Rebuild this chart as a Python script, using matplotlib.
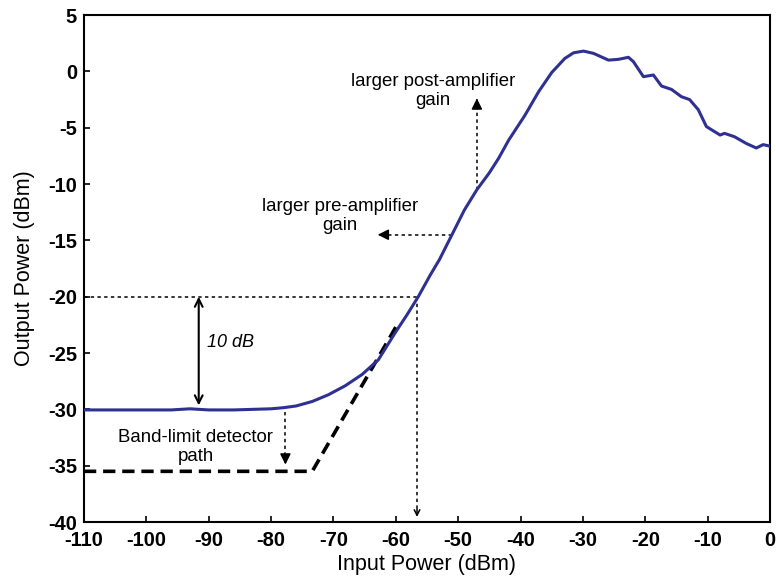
import matplotlib
matplotlib.use("Agg")
import matplotlib.pyplot as plt

# ---- data ----
input_power = [-110, -105, -100, -96, -93, -90, -86, -83, -80, -78, -76, -73.4, -70.8,
               -68.1, -65.4, -62.8, -60.1, -58.2, -56.4, -54.5, -53, -51, -49, -47, -45,
               -43.5, -41.9, -39.3, -37.1, -35.0, -32.9, -31.5, -29.9, -28.3, -25.9, -24.3,
               -22.7, -21.9, -20.3, -18.7, -17.4, -15.8, -14.2, -12.9, -11.5, -10.2, -8.0,
               -7.3, -5.7, -3.8, -2.2, -1.1, -0.3, 0]
output_power = [-30.05, -30.05, -30.05, -30.05, -29.95, -30.05, -30.05, -30.0, -29.95, -29.85,
                -29.7, -29.3, -28.7, -27.9, -26.9, -25.6, -23.2, -21.6, -20.0, -18.1, -16.7,
                -14.5, -12.3, -10.5, -9.0, -7.7, -6.1, -3.9, -1.8, -0.1, 1.15, 1.65, 1.8, 1.6,
                1.0, 1.07, 1.25, 0.86, -0.47, -0.32, -1.3, -1.6, -2.25, -2.5, -3.4, -4.9,
                -5.65, -5.5, -5.8, -6.4, -6.8, -6.5, -6.6, -6.65]
bandlimit_x = [-110, -73.4, -60.0]
bandlimit_y = [-35.5, -35.5, -22.7]
x_ticks = list(range(-110, 1, 10))
y_ticks = list(range(-40, 6, 5))

ref_x = -56.6     # input power at -20 dBm output
ref_y = -20
floor_y = -30

plt.rcParams['font.family'] = ['Liberation Sans', 'DejaVu Sans']
plt.rcParams['axes.unicode_minus'] = False

fig = plt.figure(figsize=(7.76, 5.79), dpi=100)
ax = fig.add_axes([0.1082, 0.0984, 0.8841, 0.8756])

ax.plot(input_power, output_power, color='#2E3192', lw=2.2, zorder=5)
ax.plot(bandlimit_x, bandlimit_y, color='black', lw=2.6, dashes=(3.4, 1.9), zorder=4)

dot = dict(color='black', lw=1.1, dashes=(2.2, 2.2))
# reference dotted lines
ax.plot([-110, ref_x], [ref_y, ref_y], **dot)
ax.plot([ref_x, ref_x], [ref_y, -39.0], **dot)
ax.annotate('', xy=(ref_x, -39.8), xytext=(ref_x, -38.6),
            arrowprops=dict(arrowstyle='->', lw=1.1, color='black', mutation_scale=10))

# 10 dB arrow
ax.annotate('', xy=(-91.6, ref_y), xytext=(-91.6, floor_y + 0.35),
            arrowprops=dict(arrowstyle='<->', lw=1.5, color='black', mutation_scale=14,
                            shrinkA=0, shrinkB=0))
ax.text(-90.2, -24.1, '10 dB', fontsize=13, style='italic', ha='left', va='center')

def dotted_arrow(x0, y0, x1, y1):
    ax.plot([x0, x1], [y0, y1], **dot)
    dx = (x1 - x0) * 0.08
    dy = (y1 - y0) * 0.08
    ax.annotate('', xy=(x1, y1), xytext=(x1 - dx, y1 - dy),
                arrowprops=dict(arrowstyle='-|>', lw=1.1, color='black',
                                mutation_scale=16, shrinkA=0, shrinkB=0))

# band-limit detector path
dotted_arrow(-77.7, -30.2, -77.7, -34.9)
ax.text(-92.1, -33.3, 'Band-limit detector\npath', fontsize=13.4, ha='center', va='center',
        multialignment='center', linespacing=1.15)

# post-amplifier
dotted_arrow(-47.0, -10.5, -47.0, -2.4)
ax.text(-54.0, -1.7, 'larger post-amplifier\ngain', fontsize=13.4, ha='center', va='center',
        multialignment='center', linespacing=1.15)

# pre-amplifier
dotted_arrow(-51.0, -14.5, -62.9, -14.5)
ax.text(-68.9, -12.85, 'larger pre-amplifier\ngain', fontsize=13.4, ha='center', va='center',
        multialignment='center', linespacing=1.15)

ax.set_xlim(-110, 0)
ax.set_ylim(-40, 5)
ax.set_xticks(x_ticks)
ax.set_yticks(y_ticks)
ax.tick_params(direction='in', length=4.5, width=1.2, labelsize=14.5)
ax.tick_params(axis='x', pad=6.5)
ax.tick_params(axis='y', pad=5)
for lab in ax.get_xticklabels() + ax.get_yticklabels():
    lab.set_fontweight('bold')
for sp in ax.spines.values():
    sp.set_linewidth(1.5)

ax.set_xlabel('Input Power (dBm)', fontsize=15.5, labelpad=3)
ax.set_ylabel('Output Power (dBm)', fontsize=15.5, labelpad=9)

fig.savefig('out.png', dpi=100)
